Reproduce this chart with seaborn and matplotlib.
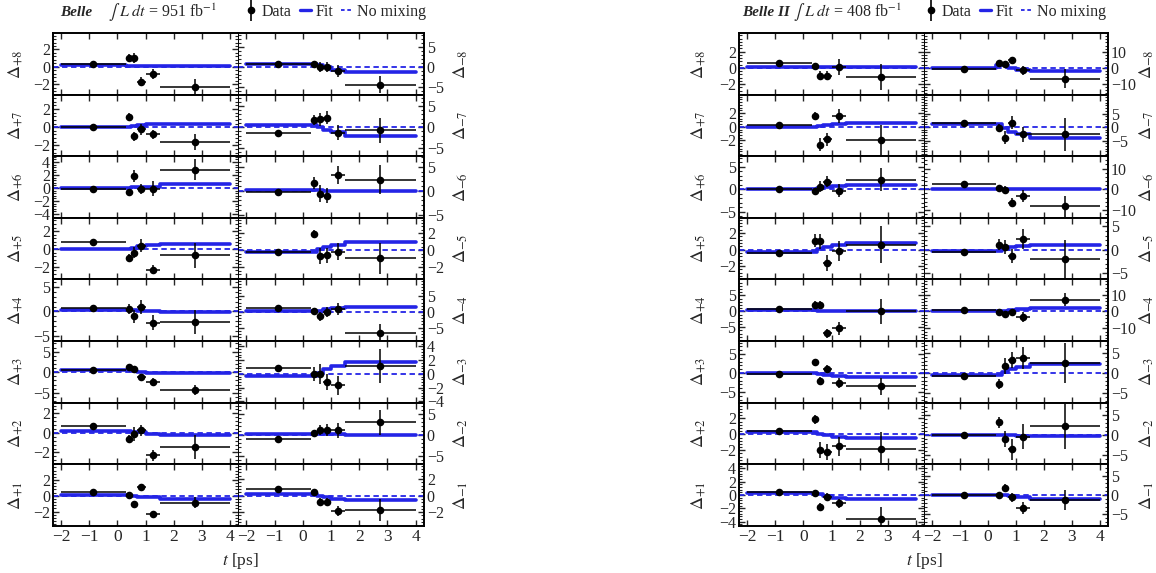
import matplotlib.pyplot as plt
import seaborn as sns
from matplotlib.lines import Line2D
from matplotlib.ticker import AutoMinorLocator

sns.set_theme(style="ticks")
plt.rcParams['font.family'] = ['Liberation Serif', 'DejaVu Serif']
plt.rcParams['mathtext.fontset'] = 'stix'

# time binning in ps
bin_edges = [-2, 0.3, 0.5, 0.7, 1.0, 1.5, 4]
t_points = [-0.88, 0.4, 0.6, 0.85, 1.25, 2.75]
row_index = [8, 7, 6, 5, 4, 3, 2, 1]

# ---- Belle, Delta_{+k} (rows k = 8 .. 1)
belle_plus_val = [[0.38, 1.0, 1.0, -1.7, -0.85, -2.35],
                  [0.05, 1.15, -1.0, -0.25, -0.8, -1.65],
                  [-0.15, -0.6, 1.8, -0.15, -0.1, 2.8],
                  [0.8, -1.0, -0.4, 0.37, -2.3, -0.67],
                  [0.7, 0.5, -1.0, 0.9, -2.3, -2.2],
                  [0.5, 1.2, 0.8, -1.2, -2.35, -4.3],
                  [0.75, -0.65, -0.1, 0.25, -2.3, -1.45],
                  [0.5, 0.1, -1.1, 1.05, -2.35, -0.9]]
belle_plus_err = [[0.15, 0.5, 0.6, 0.5, 0.6, 1.0],
                  [0.15, 0.4, 0.5, 0.6, 0.5, 0.9],
                  [0.2, 0.5, 0.9, 0.8, 1.2, 1.6],
                  [0.2, 0.5, 0.6, 0.7, 0.5, 1.4],
                  [0.4, 1.0, 1.3, 1.5, 1.5, 2.5],
                  [0.3, 0.6, 0.7, 0.8, 0.9, 1.3],
                  [0.15, 0.4, 0.7, 0.6, 0.6, 1.2],
                  [0.2, 0.3, 0.4, 0.4, 0.4, 0.7]]
belle_plus_fit = [[0.2, 0.15, 0.12, 0.1, 0.1, 0.1],
                  [0.05, 0.05, 0.15, 0.2, 0.3, 0.35],
                  [0.0, 0.0, 0.1, 0.2, 0.2, 0.6],
                  [-0.05, -0.05, 0.1, 0.3, 0.4, 0.6],
                  [0.3, 0.3, 0.2, 0.1, 0.0, -0.1],
                  [0.5, 0.5, 0.3, 0.0, -0.2, -0.3],
                  [0.15, 0.15, 0.1, 0.05, -0.1, -0.2],
                  [0.1, 0.1, 0.0, -0.1, -0.2, -0.4]]
belle_plus_ylim = [(-3.2, 3.9), (-3.2, 3.6), (-4.6, 4.9), (-3.4, 3.5),
                   (-6.1, 6.6), (-7.4, 7.6), (-3.2, 3.1), (-3.8, 4.0)]
belle_plus_ticks = [[-2, 0, 2], [-2, 0, 2], [-4, -2, 0, 2, 4], [-2, 0, 2],
                    [-5, 0, 5], [-5, 0, 5], [-2, 0, 2], [-2, 0, 2]]

# ---- Belle, Delta_{-k}
belle_minus_val = [[0.8, 0.8, 0.0, 0.0, -1.0, -4.3],
                   [-1.35, 1.6, 1.85, 2.25, -1.35, -0.8],
                   [-0.15, 1.6, -0.6, -1.0, 3.3, 2.3],
                   [-0.2, 1.9, -0.65, -0.6, -0.15, -0.95],
                   [1.3, 0.2, -1.4, 0.0, 1.0, -6.9],
                   [0.9, 0.0, -0.05, -1.2, -1.7, 1.2],
                   [-0.95, 0.4, 1.1, 1.1, 1.1, 3.0],
                   [0.75, 0.4, -0.8, -0.75, -1.85, -1.75]]
belle_minus_err = [[0.3, 0.8, 1.2, 1.2, 1.5, 2.0],
                   [0.4, 1.2, 1.5, 1.5, 1.8, 3.0],
                   [0.5, 1.2, 1.8, 1.6, 1.8, 3.0],
                   [0.2, 0.5, 0.9, 0.9, 1.0, 1.8],
                   [0.7, 1.0, 1.5, 1.5, 2.0, 3.0],
                   [0.4, 1.0, 1.5, 1.2, 1.4, 2.5],
                   [0.5, 0.8, 1.2, 1.4, 1.8, 3.0],
                   [0.2, 0.3, 0.5, 0.5, 0.6, 1.3]]
belle_minus_fit = [[0.7, 0.7, 0.5, 0.0, -0.7, -1.2],
                   [0.6, 0.6, 0.0, -0.6, -1.2, -2.0],
                   [0.1, 0.1, 0.1, 0.05, 0.0, 0.0],
                   [-0.2, -0.2, 0.2, 0.4, 0.6, 0.95],
                   [0.2, 0.2, 0.4, 0.8, 1.2, 1.6],
                   [-0.3, -0.3, 0.1, 0.7, 1.2, 1.8],
                   [0.3, 0.3, 0.3, 0.2, 0.1, 0.0],
                   [0.15, 0.15, 0.0, -0.2, -0.35, -0.5]]
belle_minus_ylim = [(-6.8, 8.5), (-6.9, 7.7), (-5.6, 7.2), (-3.4, 3.8),
                    (-9.3, 10.4), (-4.2, 4.8), (-7.0, 7.7), (-3.65, 3.8)]
belle_minus_ticks = [[-5, 0, 5], [-5, 0, 5], [-5, 0, 5], [-2, 0, 2],
                     [-5, 0, 5], [-4, -2, 0, 2, 4], [-5, 0, 5], [-2, 0, 2]]

# ---- Belle II, Delta_{+k}
belle2_plus_val = [[0.6, 0.2, -0.95, -0.95, 0.1, -1.15],
                   [0.25, 1.6, -2.6, -1.85, 1.55, -2.0],
                   [0.0, -0.5, 0.6, 1.7, -0.3, 2.1],
                   [-0.4, 1.1, 1.0, -1.6, -0.2, 0.6],
                   [0.75, 2.1, 2.1, -6.9, -5.3, 0.0],
                   [-0.2, 2.8, -2.0, 1.05, -2.6, -3.5],
                   [0.4, 1.9, -2.0, -2.2, -1.5, -1.9],
                   [0.4, 0.35, -1.75, -0.25, -1.25, -3.6]]
belle2_plus_err = [[0.1, 0.4, 0.5, 0.6, 1.0, 1.6],
                   [0.25, 0.5, 1.0, 1.0, 1.0, 2.2],
                   [0.3, 0.8, 1.2, 1.2, 1.5, 2.6],
                   [0.3, 0.8, 0.9, 1.0, 1.2, 2.2],
                   [0.5, 1.0, 1.2, 1.5, 2.0, 4.0],
                   [0.3, 0.7, 1.0, 1.0, 1.3, 2.2],
                   [0.3, 0.6, 1.0, 1.0, 1.2, 2.2],
                   [0.2, 0.3, 0.6, 0.6, 0.7, 1.8]]
belle2_plus_fit = [[0.15, 0.15, 0.1, 0.1, 0.1, 0.1],
                   [0.0, 0.0, 0.1, 0.3, 0.4, 0.5],
                   [0.0, 0.0, 0.3, 0.5, 0.7, 0.9],
                   [-0.3, -0.3, 0.1, 0.35, 0.55, 0.8],
                   [0.3, 0.3, 0.2, 0.1, 0.0, 0.0],
                   [0.1, 0.1, -0.2, -0.5, -0.8, -1.0],
                   [0.3, 0.3, 0.1, -0.1, -0.3, -0.5],
                   [0.3, 0.3, 0.1, -0.2, -0.4, -0.6]]
belle2_plus_ylim = [(-3.3, 4.3), (-4.3, 4.7), (-6.4, 7.4), (-3.6, 3.85),
                    (-9.3, 10.0), (-7.75, 8.4), (-3.75, 4.0), (-4.6, 4.6)]
belle2_plus_ticks = [[-2, 0, 2], [-2, 0, 2], [-5, 0, 5], [-2, 0, 2],
                     [-5, 0, 5], [-5, 0, 5], [-2, 0, 2], [-4, -2, 0, 2, 4]]

# ---- Belle II, Delta_{-k}
belle2_minus_val = [[-1.0, 3.0, 2.5, 4.6, -1.7, -7.0],
                    [1.6, -0.3, -3.9, 1.6, -2.7, -2.7],
                    [2.4, 0.5, -0.3, -6.4, -3.2, -8.3],
                    [-0.5, 1.1, 0.6, -1.3, 2.3, -2.0],
                    [0.6, -0.2, -1.4, -0.6, -3.4, 7.0],
                    [-0.8, -2.7, 1.9, 3.3, 3.8, 2.5],
                    [0.0, 3.1, -1.1, -3.6, -0.4, 2.1],
                    [0.0, 0.0, 1.9, -0.6, -3.4, -1.3]]
belle2_minus_err = [[0.8, 1.5, 2.0, 2.5, 3.0, 6.0],
                    [0.8, 1.5, 2.5, 2.5, 2.8, 6.0],
                    [0.6, 1.2, 2.0, 2.2, 3.0, 5.0],
                    [0.4, 1.2, 1.5, 1.5, 2.2, 4.0],
                    [0.6, 1.0, 1.2, 1.5, 3.0, 4.0],
                    [0.6, 1.2, 2.0, 2.0, 2.8, 5.0],
                    [0.6, 1.3, 2.0, 2.5, 3.0, 5.5],
                    [0.3, 0.6, 1.0, 1.2, 1.5, 2.5]]
belle2_minus_fit = [[-0.3, 1.5, 1.5, 0.0, -1.2, -2.2],
                    [1.0, 1.0, -0.5, -2.0, -2.4, -4.0],
                    [0.3, 0.3, 0.2, 0.1, 0.0, 0.0],
                    [-0.3, -0.3, 0.2, 0.5, 0.8, 1.1],
                    [0.0, 0.0, 0.3, 0.8, 1.5, 2.2],
                    [-0.5, -0.5, 0.3, 1.0, 1.5, 2.3],
                    [0.0, 0.0, 0.0, 0.0, -0.3, -0.2],
                    [0.1, 0.1, 0.0, -0.3, -0.6, -1.0]]
belle2_minus_ylim = [(-17, 22), (-10.8, 12), (-13.8, 16), (-6.4, 6.85),
                     (-17.5, 19), (-7.4, 8.1), (-7.25, 8), (-7.9, 7.9)]
belle2_minus_ticks = [[-10, 0, 10], [-5, 0, 5], [-10, 0, 10], [-5, 0, 5],
                      [-10, 0, 10], [-5, 0, 5], [-5, 0, 5], [-5, 0, 5]]

W, H = 1156, 573
FIT_COLOR = '#2424e6'
TOP, ROW_H = 33, 61.6


def minus(v):
    return str(v).replace('-', '\u2212')


def draw_column(fig, x_left, x_right, vals, errs, fits, ylims, ticks, sign, label_x):
    for i in range(8):
        top = TOP + i * ROW_H
        ax = fig.add_axes([x_left / W, 1 - (top + ROW_H) / H,
                           (x_right - x_left) / W, ROW_H / H])
        ax.axhline(0, color=FIT_COLOR, lw=1.3, ls=(0, (3, 2)), zorder=1)
        sns.lineplot(x=bin_edges, y=fits[i] + [fits[i][-1]], ax=ax,
                     drawstyle='steps-post', color=FIT_COLOR, lw=2.6,
                     estimator=None, zorder=2)
        xlo = [t - bin_edges[j] for j, t in enumerate(t_points)]
        xhi = [bin_edges[j + 1] - t for j, t in enumerate(t_points)]
        ax.errorbar(t_points, vals[i], yerr=errs[i], xerr=[xlo, xhi],
                    fmt='none', ecolor='black', elinewidth=1.1, capsize=0, zorder=3)
        sns.scatterplot(x=t_points, y=vals[i], ax=ax, color='black', s=30,
                        edgecolor='black', linewidth=0, zorder=4)
        ax.set_xlim(-2.3, 4.3)
        ax.set_ylim(*ylims[i])
        ax.set_xticks(range(-2, 5))
        ax.set_yticks(ticks[i])
        ax.yaxis.set_minor_locator(AutoMinorLocator(5))
        ax.tick_params(which='both', direction='in', top=True, bottom=True,
                       left=True, right=True, labelsize=11.5, pad=2)
        ax.tick_params(which='major', length=4, width=1)
        ax.tick_params(which='minor', length=2.5, width=0.8)
        ax.set_yticklabels([minus(v) for v in ticks[i]])
        for sp in ax.spines.values():
            sp.set_linewidth(1.4)
            sp.set_color('black')
        label = r'$\Delta_{%s%d}$' % (sign, row_index[i])
        if sign == '+':
            ax.spines['right'].set_linewidth(0.7)
            ax.set_ylabel(label, fontsize=13, rotation=90)
        else:
            ax.spines['left'].set_linewidth(0.7)
            ax.tick_params(labelleft=False, labelright=True)
            ax.yaxis.set_label_position('right')
            ax.set_ylabel(label, fontsize=13, rotation=90)
        ax.yaxis.set_label_coords(label_x, 0.5)
        if i < 7:
            ax.tick_params(labelbottom=False)
        else:
            ax.set_xticklabels([minus(v) for v in range(-2, 5)])
            ax.tick_params(axis='x', labelsize=12.5)
        ax.set_xlabel('')


def add_header(fig, x_name, name, x_int, lumi, x_leg):
    fig.text(x_name / W, 1 - 13 / H, name, fontsize=11, fontweight='bold',
             fontstyle='italic', va='center', ha='left')
    fig.text(x_int / W, 1 - 13 / H, r'$\int\ L\ dt$ = %d fb$^{-1}$' % lumi,
             fontsize=11.5, va='center', ha='left')
    data_h = (Line2D([], [], color='black', marker='|', ms=16, mew=1.2, ls='none'),
              Line2D([], [], color='black', marker='o', ms=4.5, ls='none'))
    fit_h = Line2D([], [], color=FIT_COLOR, lw=2.4)
    nomix_h = Line2D([], [], color=FIT_COLOR, lw=1.3, ls=(0, (2, 1.5)))
    fig.legend([data_h, fit_h, nomix_h], ['Data', 'Fit', 'No mixing'],
               loc='center', bbox_to_anchor=(x_leg / W, 1 - 12 / H), ncol=3,
               frameon=False, fontsize=11.5, handlelength=0.7, handletextpad=0.3,
               columnspacing=0.5, borderpad=0)


fig = plt.figure(figsize=(W / 100, H / 100), dpi=100)

draw_column(fig, 53, 238, belle_plus_val, belle_plus_err, belle_plus_fit,
            belle_plus_ylim, belle_plus_ticks, '+', -0.15)
draw_column(fig, 238, 424, belle_minus_val, belle_minus_err, belle_minus_fit,
            belle_minus_ylim, belle_minus_ticks, '-', 1.15)
draw_column(fig, 739, 924, belle2_plus_val, belle2_plus_err, belle2_plus_fit,
            belle2_plus_ylim, belle2_plus_ticks, '+', -0.17)
draw_column(fig, 924, 1108, belle2_minus_val, belle2_minus_err, belle2_minus_fit,
            belle2_minus_ylim, belle2_minus_ticks, '-', 1.16)

add_header(fig, 60, 'Belle', 108, 951, 336)
add_header(fig, 742, 'Belle II', 793, 408, 1016)

fig.text(240 / W, 1 - 561 / H, r'$t$ [ps]', fontsize=12.5, ha='center', va='center')
fig.text(924 / W, 1 - 561 / H, r'$t$ [ps]', fontsize=12.5, ha='center', va='center')

fig.savefig('out.png', dpi=100)
